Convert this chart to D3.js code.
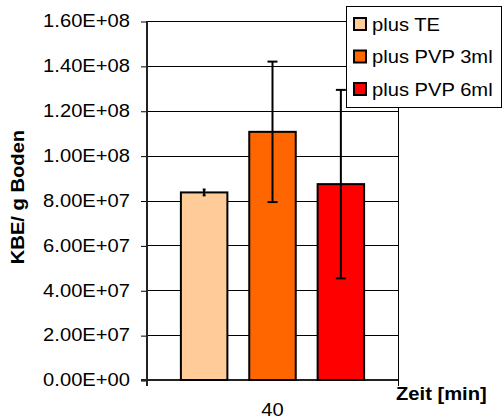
<!DOCTYPE html>
<html>
<head>
<meta charset="utf-8">
<script src="https://cdn.jsdelivr.net/npm/d3@7"></script>
<style>
  body { margin: 0; background: #fff; }
  text { font-family: "Liberation Sans", Arial, sans-serif; fill: #000; }
</style>
</head>
<body>
<script>
// Daten
const categories = ['40'];
const seriesNames = ['plus TE', 'plus PVP 3ml', 'plus PVP 6ml'];
const seriesValues = [8.36e7, 1.106e8, 8.73e7];
const seriesErrors = [1.3e6, 3.13e7, 4.2e7];
const yTicks = [0, 2e7, 4e7, 6e7, 8e7, 1e8, 1.2e8, 1.4e8, 1.6e8];

const colors = ['#FFCC99', '#FF6600', '#FF0000'];

const width = 503, height = 419;
const plotLeft = 147, plotTop = 21, plotRight = 398, plotBottom = 380;
const sx = 1.12; // Schrift etwas breiter gezogen wie im Original

const svg = d3.select('body').append('svg')
    .attr('width', width)
    .attr('height', height);

// Skalen
const y = d3.scaleLinear()
    .domain([0, 1.6e8])
    .range([plotBottom, plotTop]);

const x0 = d3.scaleBand()
    .domain(categories)
    .range([plotLeft, plotRight])
    .paddingInner(0)
    .paddingOuter(0.185);

const x1 = d3.scaleBand()
    .domain(seriesNames)
    .range([0, x0.bandwidth()])
    .paddingInner(0.32)
    .paddingOuter(0);

// Format wie Excel: 1.60E+08
function sci(d) {
    const [m, e] = d.toExponential(2).split('e');
    return m + 'E' + e[0] + e.slice(1).padStart(2, '0');
}

// Gitterlinien
svg.append('g')
    .selectAll('line')
    .data(yTicks)
    .enter()
    .append('line')
    .attr('x1', plotLeft)
    .attr('x2', plotRight)
    .attr('y1', d => Math.round(y(d)) + 0.5)
    .attr('y2', d => Math.round(y(d)) + 0.5)
    .attr('stroke', '#000')
    .attr('stroke-width', 1);

// rechter Rahmen
svg.append('line')
    .attr('x1', plotRight + 0.5).attr('x2', plotRight + 0.5)
    .attr('y1', plotTop).attr('y2', plotBottom + 6)
    .attr('stroke', '#000')
    .attr('stroke-width', 1);

// Y-Achse
const yAxis = svg.append('g')
    .attr('transform', `translate(${plotLeft},0)`)
    .call(d3.axisLeft(y).tickValues(yTicks).tickFormat(sci).tickSize(6).tickPadding(11));

yAxis.select('.domain').remove();
yAxis.selectAll('.tick line')
    .attr('stroke', '#000')
    .attr('stroke-width', 1)
    .attr('transform', 'translate(0,0.5)');
yAxis.selectAll('.tick text')
    .attr('font-size', 18)
    .attr('x', -17 / sx)
    .attr('transform', `scale(${sx},1)`);

// Achsenlinien
svg.append('line')
    .attr('x1', plotLeft).attr('x2', plotLeft)
    .attr('y1', plotTop).attr('y2', plotBottom + 6)
    .attr('stroke', '#222')
    .attr('stroke-width', 2);

svg.append('line')
    .attr('x1', plotLeft - 6).attr('x2', plotRight)
    .attr('y1', plotBottom).attr('y2', plotBottom)
    .attr('stroke', '#222')
    .attr('stroke-width', 2);

// Balken
const groups = svg.append('g')
    .selectAll('g')
    .data(categories)
    .enter()
    .append('g')
    .attr('transform', d => `translate(${x0(d)},0)`);

const barData = seriesNames.map((name, i) => ({
    name,
    value: seriesValues[i],
    err: seriesErrors[i],
    color: colors[i]
}));

groups.selectAll('rect')
    .data(barData)
    .enter()
    .append('rect')
    .attr('x', d => x1(d.name))
    .attr('y', d => y(d.value))
    .attr('width', x1.bandwidth())
    .attr('height', d => plotBottom - y(d.value))
    .attr('fill', d => d.color)
    .attr('stroke', '#000')
    .attr('stroke-width', 2);

// Fehlerbalken
const errG = groups.selectAll('g.err')
    .data(barData)
    .enter()
    .append('g')
    .attr('class', 'err')
    .attr('stroke', '#000')
    .attr('stroke-width', 2);

const cx = d => x1(d.name) + x1.bandwidth() / 2;
// kurze Fehlerbalken bekommen schmalere Kappen (wie im Original)
const capHalf = d => Math.min(5, (y(d.value - d.err) - y(d.value + d.err)) / 4);

errG.append('line')
    .attr('x1', cx)
    .attr('x2', cx)
    .attr('y1', d => y(d.value + d.err))
    .attr('y2', d => y(d.value - d.err));

[1, -1].forEach(s => {
    errG.append('line')
        .attr('x1', d => cx(d) - capHalf(d))
        .attr('x2', d => cx(d) + capHalf(d))
        .attr('y1', d => y(d.value + s * d.err))
        .attr('y2', d => y(d.value + s * d.err));
});

// Kategorie-Beschriftung
svg.selectAll('.cat')
    .data(categories)
    .enter()
    .append('text')
    .attr('class', 'cat')
    .attr('transform', d => `translate(${x0(d) + x0.bandwidth() / 2},416) scale(${sx},1)`)
    .attr('text-anchor', 'middle')
    .attr('font-size', 18)
    .text(d => d);

// Achsentitel
svg.append('text')
    .attr('transform', `translate(24,197) rotate(-90) scale(${sx},1)`)
    .attr('text-anchor', 'middle')
    .attr('font-size', 18)
    .attr('font-weight', 'bold')
    .text('KBE/ g Boden');

svg.append('text')
    .attr('transform', `translate(396,400) scale(${sx},1)`)
    .attr('font-size', 18)
    .attr('font-weight', 'bold')
    .text('Zeit [min]');

// Legende
const legend = svg.append('g')
    .attr('transform', 'translate(346,6)');

legend.append('rect')
    .attr('x', 0.5).attr('y', 0.5)
    .attr('width', 155).attr('height', 101)
    .attr('fill', '#fff')
    .attr('stroke', '#000')
    .attr('stroke-width', 1);

const rows = legend.selectAll('.row')
    .data(barData)
    .enter()
    .append('g')
    .attr('class', 'row')
    .attr('transform', (d, i) => `translate(0,${18 + i * 32.5})`);

rows.append('rect')
    .attr('x', 8).attr('y', -6)
    .attr('width', 12).attr('height', 12)
    .attr('fill', d => d.color)
    .attr('stroke', '#000')
    .attr('stroke-width', 2);

rows.append('text')
    .attr('transform', `translate(26,6.5) scale(${sx},1)`)
    .attr('font-size', 18)
    .text(d => d.name);
</script>
</body>
</html>
